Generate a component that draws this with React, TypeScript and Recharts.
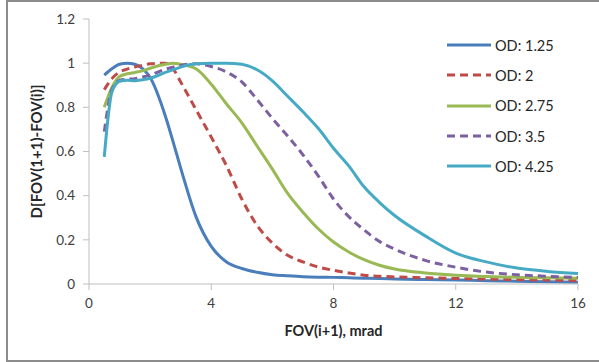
import { Line, LineChart, XAxis, YAxis } from "recharts";

const FOV = [0.5, 0.75, 1, 1.25, 1.5, 1.75, 2, 2.5, 2.75, 3, 3.5, 4, 4.5, 5, 5.5, 6, 6.5, 7, 7.5, 8, 8.5, 9, 9.5, 10, 11, 12, 13, 14, 15, 16];

const OD_125 = [0.946, 0.975, 0.995, 1.0, 0.995, 0.975, 0.935, 0.76, 0.645, 0.525, 0.305, 0.17, 0.1, 0.07, 0.053, 0.042, 0.037, 0.033, 0.031, 0.03, 0.028, 0.026, 0.025, 0.023, 0.02, 0.018, 0.015, 0.013, 0.01, 0.008];
const OD_2 = [0.88, 0.93, 0.96, 0.973, 0.983, 0.99, 0.997, 1.0, 0.975, 0.915, 0.79, 0.665, 0.535, 0.385, 0.265, 0.185, 0.13, 0.1, 0.077, 0.062, 0.05, 0.04, 0.035, 0.032, 0.028, 0.025, 0.022, 0.02, 0.018, 0.016];
const OD_275 = [0.8, 0.89, 0.94, 0.952, 0.958, 0.965, 0.977, 0.995, 1.0, 0.995, 0.975, 0.905, 0.815, 0.73, 0.625, 0.52, 0.41, 0.325, 0.25, 0.19, 0.145, 0.11, 0.085, 0.068, 0.05, 0.04, 0.034, 0.03, 0.028, 0.026];
const OD_35 = [0.69, 0.88, 0.922, 0.927, 0.93, 0.937, 0.946, 0.973, 0.982, 0.99, 0.997, 0.985, 0.96, 0.915, 0.835, 0.75, 0.67, 0.585, 0.49, 0.385, 0.305, 0.245, 0.193, 0.158, 0.107, 0.076, 0.054, 0.042, 0.035, 0.03];
const OD_425 = [0.576, 0.87, 0.918, 0.923, 0.92, 0.925, 0.932, 0.958, 0.97, 0.982, 0.997, 1.0, 1.0, 0.995, 0.97, 0.92, 0.85, 0.78, 0.705, 0.615, 0.535, 0.44, 0.37, 0.31, 0.218, 0.14, 0.1, 0.072, 0.057, 0.048];

const X_TICKS = [0, 4, 8, 12, 16];
const Y_TICKS = [0, 0.2, 0.4, 0.6, 0.8, 1, 1.2];

const SERIES = [
  { key: "od125", name: "OD: 1.25", values: OD_125, color: "#4A7EBB", dash: undefined },
  { key: "od2", name: "OD: 2", values: OD_2, color: "#BE4B48", dash: "8 5" },
  { key: "od275", name: "OD: 2.75", values: OD_275, color: "#98B954", dash: undefined },
  { key: "od35", name: "OD: 3.5", values: OD_35, color: "#7D60A0", dash: "8 5" },
  { key: "od425", name: "OD: 4.25", values: OD_425, color: "#46AAC5", dash: undefined },
];

const data = FOV.map((x, i) => {
  const row: Record<string, number> = { x };
  SERIES.forEach((s) => { row[s.key] = s.values[i]; });
  return row;
});

const FONT = "Lato, 'Open Sans', sans-serif";
const AXIS = "#BFBFBF";
const tick = { fontSize: 13.5, fill: "#404040", fontFamily: FONT };

function LegendBox() {
  return (
    <div style={{ position: "absolute", left: 447, top: 30, fontFamily: FONT, fontSize: 14.5, color: "#262626" }}>
      {SERIES.map((s) => (
        <div key={s.key} style={{ display: "flex", alignItems: "center", height: 30.3 }}>
          <svg width={44} height={6} style={{ marginRight: 4 }}>
            <line x1={0} y1={3} x2={44} y2={3} stroke={s.color} strokeWidth={3} strokeDasharray={s.dash} />
          </svg>
          <span>{s.name}</span>
        </div>
      ))}
    </div>
  );
}

export default function App() {
  return (
    <div style={{ position: "absolute", left: 0, top: 0, width: 599, height: 362, overflow: "hidden", background: "#fff" }}>
      <div style={{ position: "absolute", left: 6, top: 0, width: 700, height: 358, border: "2px solid #8C8C8C" }} />
      <div style={{ position: "absolute", left: 0, top: 0 }}>
        <LineChart width={599} height={362} data={data} margin={{ top: 19, right: 21, bottom: 48, left: 29 }}>
          <XAxis
            dataKey="x" type="number" domain={[0, 16]} ticks={X_TICKS}
            stroke={AXIS} tick={tick} tickSize={6} tickMargin={8} height={30}
            label={{ value: "FOV(i+1), mrad", position: "bottom", offset: 12, style: { fontSize: 14.5, fontWeight: 700, fill: "#262626", fontFamily: FONT } }}
          />
          <YAxis
            type="number" domain={[0, 1.2]} ticks={Y_TICKS}
            stroke={AXIS} tick={tick} tickSize={6} tickMargin={8} width={60}
            label={{ value: "D[FOV(1+1)-FOV(i)]", angle: -90, position: "center", dx: -22, style: { fontSize: 15, fontWeight: 700, fill: "#262626", fontFamily: FONT, textAnchor: "middle" } }}
          />
          {SERIES.map((s) => (
            <Line
              key={s.key} dataKey={s.key} name={s.name} type="monotone"
              stroke={s.color} strokeWidth={3} strokeDasharray={s.dash}
              dot={false} isAnimationActive={false}
            />
          ))}
        </LineChart>
      </div>
      <LegendBox />
    </div>
  );
}
